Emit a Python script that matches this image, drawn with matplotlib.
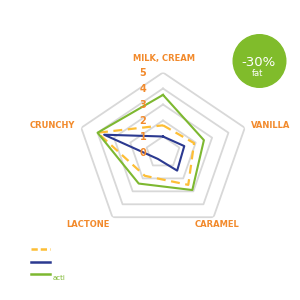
import numpy as np
import matplotlib.pyplot as plt
from matplotlib.lines import Line2D
from matplotlib.patches import Circle

categories = ['MILK, CREAM', 'VANILLA', 'CARAMEL', 'LACTONE', 'CRUNCHY']
series_yellow = [1.7, 1.9, 2.5, 1.8, 4.0]
series_blue = [1.0, 1.3, 1.4, 0.5, 3.6]
series_green = [3.6, 2.5, 2.9, 2.4, 4.0]
rings = [1, 2, 3, 4, 5]
tick_labels = ['0', '1', '2', '3', '4', '5']

ORANGE = '#F28A2C'
YELLOW = '#FDBE35'
BLUE = '#2B3990'
GREEN = '#7DB830'
GRID = '#D8D8D8'

fig = plt.figure(figsize=(3, 3), dpi=100)
ax = fig.add_axes([0.2567, 0.225, 0.5733, 0.5333], projection='polar')
ax.set_aspect('auto')
ax.set_theta_offset(np.pi / 2)
ax.set_theta_direction(-1)
ax.set_ylim(0, 5)
ax.grid(False)
ax.spines['polar'].set_visible(False)
ax.set_xticks([])
ax.set_yticks([])
ax.patch.set_alpha(0)

n = len(categories)
angles = np.linspace(0, 2 * np.pi, n, endpoint=False).tolist()
closed = angles + angles[:1]

# pentagon grid
for r in rings:
    ax.plot(closed, [r] * (n + 1), color=GRID, lw=1.3, zorder=1)

def close(vals):
    return list(vals) + [vals[0]]

ax.plot(closed, close(series_green), color=GREEN, lw=1.5, zorder=3)
ax.plot(closed, close(series_blue), color=BLUE, lw=1.5, zorder=4)
ax.plot(closed, close(series_yellow), color=YELLOW, lw=1.6, ls=(0, (4, 2.5)), zorder=2)

# radial tick labels
for i, t in enumerate(tick_labels):
    ax.annotate(t, xy=(0, i), xytext=(-20, 0), textcoords='offset pixels',
                ha='center', va='center', color=ORANGE, fontsize=7,
                fontweight='bold', zorder=5)

# category labels
offsets = [((1, 14), 'center'), ((6, 2), 'left'), ((3, -7), 'center'),
           ((-25, -7), 'center'), ((-6, 2), 'right')]
for ang, lab, (off, ha) in zip(angles, categories, offsets):
    ax.annotate(lab, xy=(ang, 5), xytext=off, textcoords='offset pixels',
                ha=ha, va='center', color=ORANGE, fontsize=6,
                fontweight='bold', annotation_clip=False)

# badge
badge = Circle((259.5 / 300, 1 - 61 / 300), 26.3 / 300, transform=fig.transFigure,
               color='#80BC2B', zorder=1)
fig.add_artist(badge)
fig.text(258 / 300, 1 - 62 / 300, '-30%', color='white', fontsize=9.5,
         ha='center', va='center')
fig.text(258 / 300, 1 - 73 / 300, 'fat', color='white', fontsize=6,
         ha='center', va='center')

handles = [Line2D([], [], color=YELLOW, lw=1.8, ls=(0, (2.5, 1.2))),
           Line2D([], [], color=BLUE, lw=1.8),
           Line2D([], [], color=GREEN, lw=1.8)]
fig.legend(handles, [' ', ' ', ' '], loc='upper left',
           bbox_to_anchor=(27 / 300, 1 - 241 / 300), frameon=False,
           handlelength=2.2, fontsize=6, labelspacing=0.4, borderpad=0,
           handletextpad=0.3)
fig.text(53 / 300, 1 - 278.5 / 300, 'acti', color=GREEN, fontsize=5,
         ha='left', va='center')

fig.savefig('out.png', dpi=100)
